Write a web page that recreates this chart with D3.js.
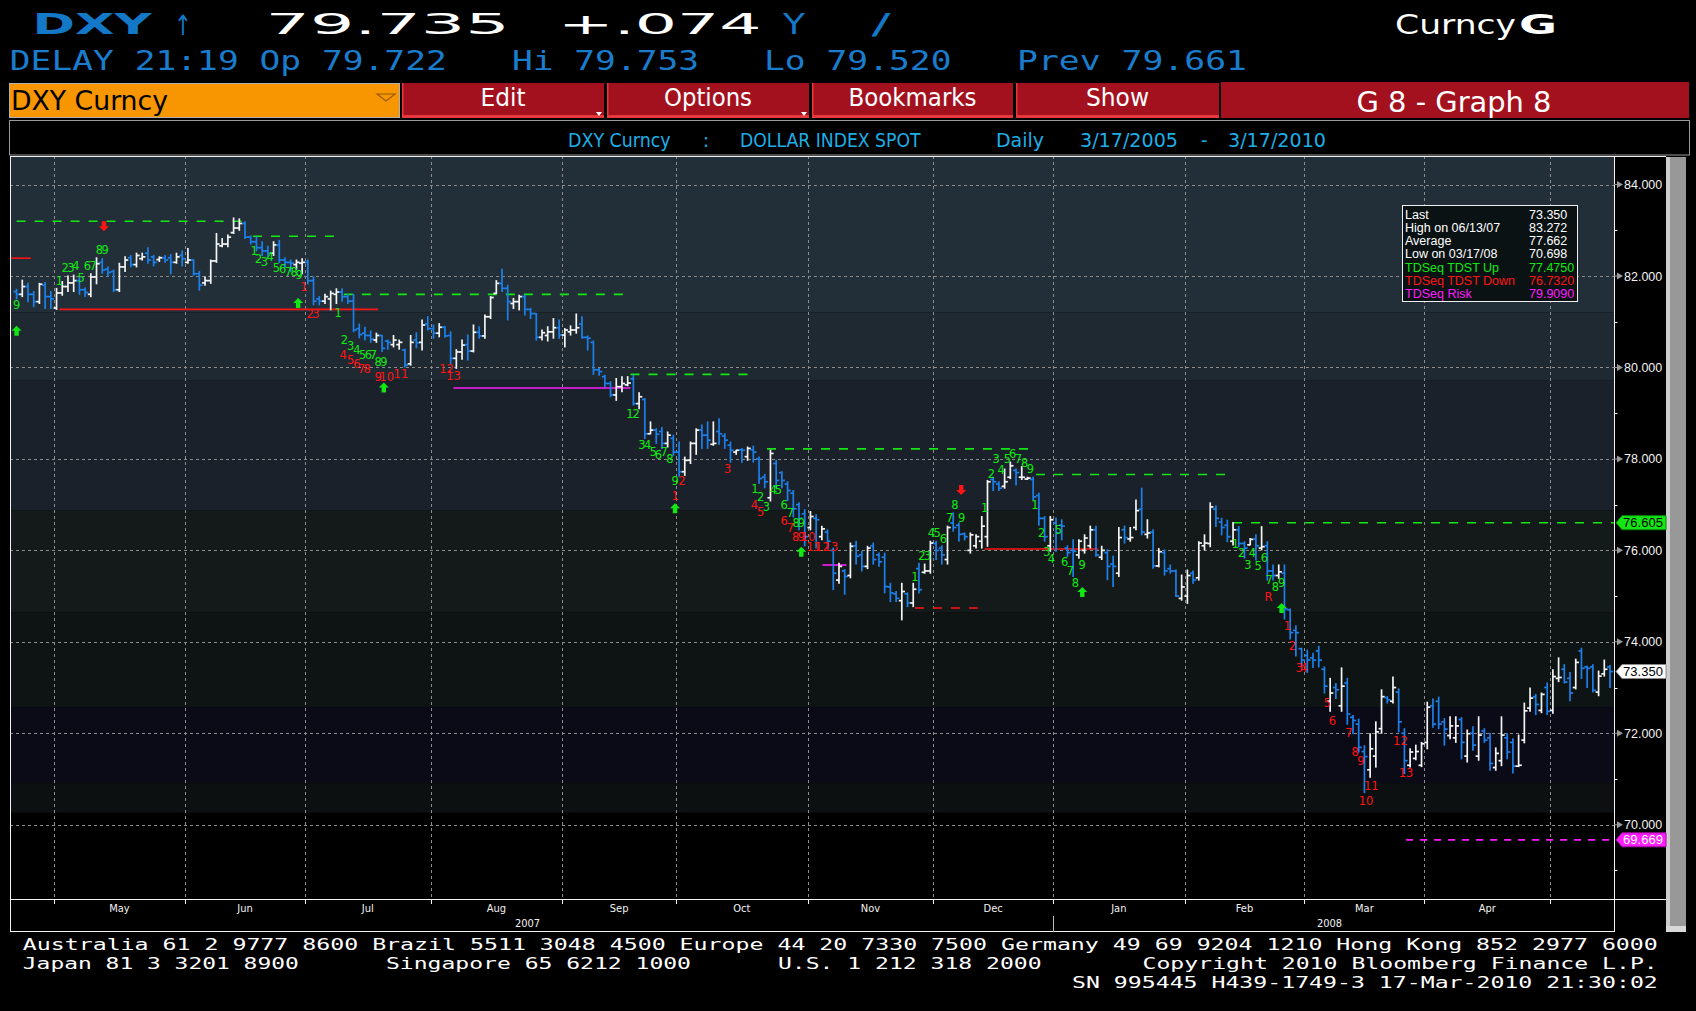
<!DOCTYPE html>
<html>
<head>
<meta charset="utf-8">
<script src="https://cdn.jsdelivr.net/npm/d3@7"></script>
<style>
html, body { margin: 0; padding: 0; background: #000; overflow: hidden; }
svg { display: block; }
</style>
</head>
<body>
<script>
// ---- daily OHLC of DXY, 20 Apr 2007 .. 15 May 2008 (weekdays) ----
const barOpen = [
  81.66, 81.60, 81.77, 81.60, 81.44, 81.80, 81.55, 81.30, 81.63, 81.77,
  81.85, 81.90, 81.70, 81.60, 81.98, 82.30, 82.15, 82.10, 81.70, 82.20,
  82.40, 82.25, 82.38, 82.50, 82.42, 82.36, 82.40, 82.40, 82.30, 82.45,
  82.30, 82.35, 82.05, 81.85, 81.90, 82.33, 82.66, 82.70, 82.95, 83.05,
  83.15, 82.85, 82.75, 82.62, 82.55, 82.50, 82.68, 82.35, 82.30, 82.25,
  82.28, 82.30, 81.90, 81.50, 81.45, 81.50, 81.60, 81.65, 81.55, 81.45,
  80.85, 80.75, 80.70, 80.60, 80.70, 80.58, 80.50, 80.50, 80.38, 80.08,
  80.60, 80.55, 80.95, 80.85, 80.75, 80.88, 80.70, 80.20, 80.34, 80.50,
  80.36, 80.77, 80.69, 81.11, 81.62, 81.84, 81.73, 81.40, 81.44, 81.55,
  81.27, 81.18, 80.66, 80.70, 80.78, 80.87, 80.71, 80.78, 80.82, 80.95,
  80.66, 80.55, 79.95, 79.80, 79.65, 79.40, 79.58, 79.62, 79.75, 79.21,
  79.30, 78.55, 78.63, 78.60, 78.34, 78.45, 78.15, 77.72, 77.97, 78.34,
  78.63, 78.52, 78.32, 78.60, 78.50, 78.30, 78.15, 78.20, 78.05, 78.20,
  78.00, 77.60, 77.15, 77.90, 77.70, 77.45, 77.25, 77.00, 76.80, 76.50,
  76.70, 76.30, 76.40, 76.00, 75.35, 75.55, 75.45, 76.10, 75.90, 75.65,
  76.10, 75.90, 75.85, 75.20, 75.05, 74.90, 75.05, 74.85, 75.60, 75.52,
  75.55, 76.15, 76.05, 75.80, 76.60, 76.55, 76.36, 76.00, 76.10, 76.20,
  76.30, 77.55, 77.45, 77.40, 77.60, 77.75, 77.60, 77.56, 77.55, 77.20,
  76.70, 76.10, 76.60, 76.55, 76.05, 76.00, 75.90, 76.00, 76.10, 76.45,
  75.85, 75.95, 75.70, 75.50, 76.45, 76.25, 76.50, 76.90, 76.35, 76.40,
  75.66, 75.95, 75.60, 75.55, 74.95, 75.00, 75.50, 75.40, 76.10, 76.15,
  76.90, 76.62, 76.55, 76.20, 76.45, 76.15, 76.12, 76.25, 76.05, 76.10,
  75.55, 75.45, 75.50, 74.70, 74.25, 73.85, 73.70, 73.65, 73.80, 73.40,
  72.70, 73.00, 72.60, 73.10, 72.35, 72.20, 71.60, 71.20, 71.50, 72.10,
  72.78, 72.70, 72.90, 72.00, 71.30, 71.45, 71.30, 71.80, 72.60, 72.70,
  72.25, 71.95, 71.90, 72.30, 71.50, 72.00, 71.50, 72.05, 71.90, 71.25,
  71.40, 71.90, 71.80, 71.28, 71.85, 72.55, 72.80, 72.50, 73.00, 72.50,
  73.20, 73.40, 73.20, 73.00, 73.80, 73.45, 73.45, 72.90, 73.30, 73.45
];
const barHigh = [
  81.71, 81.91, 81.84, 81.66, 81.84, 81.86, 81.66, 81.73, 81.88, 82.00,
  82.02, 81.98, 81.74, 82.05, 82.40, 82.38, 82.20, 82.13, 82.28, 82.42,
  82.45, 82.50, 82.50, 82.62, 82.45, 82.42, 82.45, 82.47, 82.50, 82.55,
  82.60, 82.35, 82.10, 81.98, 82.35, 82.93, 82.82, 82.90, 83.27, 83.25,
  83.19, 82.88, 82.85, 82.75, 82.65, 82.75, 82.78, 82.40, 82.35, 82.35,
  82.38, 82.35, 81.98, 81.55, 81.60, 81.67, 81.72, 81.72, 81.60, 81.60,
  80.95, 80.88, 80.80, 80.75, 80.70, 80.60, 80.70, 80.60, 80.40, 80.70,
  80.76, 81.04, 81.11, 80.93, 80.96, 80.90, 80.78, 80.39, 80.60, 80.71,
  80.93, 80.89, 81.15, 81.55, 81.90, 82.15, 81.80, 81.51, 81.58, 81.58,
  81.29, 81.18, 80.82, 80.89, 81.07, 81.04, 80.85, 80.91, 81.17, 81.11,
  80.69, 80.58, 79.98, 79.83, 79.69, 79.76, 79.80, 79.80, 79.83, 79.45,
  79.32, 78.81, 78.66, 78.69, 78.59, 78.52, 78.37, 78.04, 78.37, 78.66,
  78.74, 78.81, 78.81, 78.88, 78.55, 78.37, 78.19, 78.23, 78.26, 78.28,
  78.04, 77.66, 78.19, 77.97, 77.72, 77.50, 77.31, 77.04, 76.89, 76.85,
  76.78, 76.53, 76.45, 76.05, 75.72, 75.58, 76.16, 76.20, 75.98, 76.09,
  76.16, 75.94, 75.94, 75.28, 75.10, 75.28, 75.07, 75.28, 75.72, 75.70,
  76.20, 76.20, 76.10, 76.53, 76.82, 76.60, 76.38, 76.38, 76.34, 76.74,
  77.53, 77.60, 77.50, 77.78, 77.93, 77.78, 77.83, 77.60, 77.60, 77.25,
  76.74, 76.74, 76.71, 76.67, 76.10, 76.23, 76.23, 76.34, 76.53, 76.53,
  76.09, 76.01, 75.87, 76.50, 76.53, 76.50, 77.10, 77.36, 76.67, 76.45,
  76.04, 76.01, 75.68, 75.57, 75.46, 75.57, 75.55, 76.19, 76.34, 77.04,
  76.97, 76.70, 76.66, 76.61, 76.52, 76.19, 76.26, 76.34, 76.52, 76.19,
  75.68, 75.68, 75.68, 74.72, 74.35, 73.86, 73.82, 73.75, 73.90, 73.45,
  73.20, 73.09, 73.43, 73.20, 72.39, 72.31, 71.73, 71.99, 72.25, 72.95,
  72.80, 73.23, 72.97, 72.10, 71.66, 71.74, 71.80, 72.68, 72.75, 72.79,
  72.32, 72.36, 72.36, 72.34, 72.07, 72.14, 72.36, 72.10, 72.00, 71.68,
  72.36, 71.99, 71.88, 71.96, 72.66, 72.99, 72.85, 72.88, 73.10, 73.39,
  73.65, 73.50, 73.33, 73.62, 73.86, 73.47, 73.50, 73.36, 73.60, 73.48
];
const barLow = [
  81.50, 81.55, 81.44, 81.33, 81.40, 81.29, 81.29, 81.27, 81.58, 81.66,
  81.66, 81.60, 81.55, 81.55, 81.83, 82.06, 82.00, 81.66, 81.66, 82.10,
  82.20, 82.20, 82.35, 82.28, 82.22, 82.32, 82.30, 82.05, 82.28, 82.22,
  82.28, 82.02, 81.69, 81.80, 81.84, 82.30, 82.64, 82.64, 82.93, 83.00,
  82.82, 82.70, 82.55, 82.45, 82.42, 82.45, 82.30, 82.20, 82.10, 82.15,
  82.05, 81.83, 81.37, 81.37, 81.40, 81.26, 81.40, 81.45, 81.40, 80.78,
  80.65, 80.60, 80.55, 80.55, 80.35, 80.40, 80.45, 80.40, 80.01, 80.05,
  80.43, 80.38, 80.82, 80.64, 80.67, 80.66, 80.09, 79.98, 80.18, 80.16,
  80.34, 80.64, 80.64, 81.07, 81.62, 81.66, 81.04, 81.29, 81.26, 81.15,
  81.07, 80.60, 80.60, 80.58, 80.64, 80.64, 80.45, 80.71, 80.75, 80.64,
  80.38, 79.85, 79.83, 79.58, 79.36, 79.28, 79.47, 79.60, 79.18, 79.10,
  78.45, 78.55, 78.34, 78.23, 78.26, 78.08, 77.61, 77.64, 77.90, 78.10,
  78.23, 78.23, 78.30, 78.32, 78.23, 77.93, 78.10, 77.93, 77.97, 77.93,
  77.46, 77.37, 77.08, 77.37, 77.37, 77.09, 76.73, 76.45, 76.10, 76.45,
  76.05, 76.23, 76.05, 75.14, 75.28, 75.04, 75.40, 75.70, 75.55, 75.60,
  75.70, 75.65, 75.07, 74.88, 74.88, 74.48, 74.77, 74.77, 75.07, 75.50,
  75.50, 75.80, 75.70, 75.70, 76.42, 76.20, 76.23, 75.94, 76.05, 76.05,
  76.09, 77.31, 77.31, 77.36, 77.57, 77.43, 77.55, 77.55, 77.10, 76.55,
  76.20, 75.98, 75.98, 76.23, 75.87, 75.43, 75.83, 75.94, 76.05, 75.87,
  75.80, 75.36, 75.21, 75.43, 76.16, 76.20, 76.45, 76.34, 76.27, 75.61,
  75.64, 75.46, 75.50, 74.99, 74.91, 74.84, 75.28, 75.35, 76.01, 76.08,
  76.52, 76.34, 76.19, 76.12, 76.08, 75.83, 76.12, 75.79, 76.01, 75.35,
  75.35, 75.39, 74.50, 74.06, 73.69, 73.47, 73.33, 73.44, 73.45, 72.88,
  72.48, 72.76, 72.48, 72.20, 71.99, 71.59, 70.70, 71.04, 71.26, 72.00,
  72.66, 72.66, 72.03, 71.12, 71.26, 71.42, 71.27, 71.66, 72.13, 72.10,
  71.74, 71.88, 71.80, 71.44, 71.37, 71.63, 71.41, 71.80, 71.19, 71.19,
  71.29, 71.44, 71.13, 71.27, 71.79, 72.48, 72.41, 72.45, 72.41, 72.44,
  73.13, 73.10, 72.71, 72.97, 73.20, 73.00, 72.90, 72.82, 73.25, 73.00
];
const barClose = [
  81.60, 81.77, 81.60, 81.44, 81.82, 81.55, 81.50, 81.63, 81.77, 81.85,
  81.90, 81.70, 81.64, 81.98, 82.27, 82.13, 82.08, 81.70, 82.20, 82.35,
  82.25, 82.45, 82.42, 82.35, 82.30, 82.40, 82.35, 82.30, 82.42, 82.38,
  82.35, 82.05, 81.80, 81.90, 82.33, 82.70, 82.70, 82.85, 83.05, 83.15,
  82.85, 82.75, 82.62, 82.55, 82.50, 82.68, 82.35, 82.30, 82.28, 82.30,
  82.30, 81.90, 81.45, 81.45, 81.55, 81.62, 81.65, 81.55, 81.45, 80.82,
  80.72, 80.70, 80.62, 80.70, 80.42, 80.55, 80.60, 80.55, 80.05, 80.55,
  80.54, 80.93, 80.85, 80.75, 80.88, 80.69, 80.20, 80.34, 80.49, 80.36,
  80.77, 80.69, 81.11, 81.53, 81.84, 81.73, 81.44, 81.44, 81.55, 81.27,
  81.18, 80.66, 80.76, 80.78, 80.87, 80.71, 80.82, 80.82, 80.87, 80.66,
  80.64, 79.95, 79.91, 79.65, 79.40, 79.58, 79.65, 79.66, 79.21, 79.36,
  78.55, 78.63, 78.54, 78.34, 78.52, 78.15, 77.72, 77.97, 78.34, 78.63,
  78.52, 78.41, 78.34, 78.55, 78.41, 78.19, 78.19, 78.19, 78.23, 78.15,
  77.57, 77.50, 78.12, 77.53, 77.53, 77.31, 76.91, 76.70, 76.30, 76.74,
  76.67, 76.47, 76.20, 75.50, 75.65, 75.43, 76.09, 75.87, 75.65, 76.05,
  75.80, 75.75, 75.21, 75.07, 74.95, 75.10, 74.85, 75.15, 75.14, 75.55,
  76.16, 76.00, 75.90, 76.50, 76.50, 76.35, 76.30, 76.34, 76.30, 76.53,
  77.50, 77.50, 77.36, 77.50, 77.85, 77.70, 77.60, 77.58, 77.17, 76.70,
  76.30, 76.67, 76.38, 76.53, 75.95, 75.98, 76.20, 76.27, 76.45, 75.90,
  76.00, 75.65, 75.65, 76.28, 76.28, 76.28, 76.87, 76.40, 76.38, 75.66,
  75.97, 75.55, 75.55, 75.00, 75.20, 75.45, 75.35, 76.16, 76.16, 76.95,
  76.70, 76.50, 76.30, 76.45, 76.15, 76.05, 76.24, 76.10, 76.08, 75.55,
  75.45, 75.53, 74.72, 74.20, 74.20, 73.60, 73.60, 73.60, 73.60, 73.03,
  72.88, 72.95, 73.03, 72.42, 72.28, 71.69, 71.49, 71.66, 72.03, 72.80,
  72.73, 73.00, 72.25, 71.40, 71.59, 71.60, 71.77, 72.57, 72.20, 72.20,
  72.09, 72.16, 72.16, 71.80, 71.99, 71.74, 71.96, 71.85, 71.34, 71.56,
  71.96, 71.59, 71.28, 71.30, 72.49, 72.77, 72.63, 72.85, 72.48, 73.24,
  73.22, 73.12, 72.88, 73.55, 73.42, 73.42, 72.94, 73.25, 73.40, 73.35
];

// axis labels
const priceTicks = [84, 82, 80, 78, 76, 74, 72, 70];
const priceMinorTicks = [83, 81, 79, 77, 75, 73, 71, 69];
const monthLabels = ["May", "Jun", "Jul", "Aug", "Sep", "Oct", "Nov", "Dec", "Jan", "Feb", "Mar", "Apr"];
const yearLabels = ["2007", "2008"];

// background shading levels (price) and colours, top to bottom
const shadeLevels = [84.7, 81.2, 79.71, 76.87, 74.64, 72.57, 70.91, 70.26, 68.3];
const shadeColors = ["#222f39", "#1e2931", "#1a212b", "#141a1a", "#0e1414", "#0b0b17", "#0d1010", "#000000"];

// TD sequential marks: [bar index, price, text]
const setupCounts = [
  [0, 81.37, "9"], [7.5, 81.89, "1"], [8.5, 82.18, "2"], [9.5, 82.18, "3"], [10.4, 82.23, "4"],
  [11.3, 81.96, "5"], [12.4, 82.22, "6"], [13.4, 82.22, "7"], [14.5, 82.58, "8"], [15.5, 82.58, "9"],
  [41.6, 82.55, "1"], [42.4, 82.37, "2"], [43.4, 82.31, "3"], [44.4, 82.42, "4"], [45.5, 82.18, "5"],
  [46.6, 82.15, "6"], [47.6, 82.09, "7"], [48.6, 82.09, "8"], [49.5, 82.02, "9"],
  [56.3, 81.2, "1"], [57.4, 80.6, "2"], [58.5, 80.47, "3"], [59.6, 80.38, "4"], [60.6, 80.28, "5"],
  [61.6, 80.28, "6"], [62.5, 80.28, "7"], [63.3, 80.12, "8"], [64.3, 80.12, "9"],
  [107.4, 78.99, "1"], [108.5, 78.99, "2"], [109.5, 78.3, "3"], [110.5, 78.3, "4"], [111.5, 78.15, "5"],
  [112.4, 78.08, "6"], [113.4, 78.15, "7"], [114.4, 78.0, "8"], [115.3, 77.53, "9"],
  [129.3, 77.35, "1"], [130.3, 77.18, "2"], [131.3, 76.95, "3"], [132.5, 77.33, "4"], [133.4, 77.33, "5"],
  [134.4, 77.0, "6"], [135.5, 76.82, "7"], [136.5, 76.6, "8"], [137.4, 76.6, "9"],
  [157.3, 75.42, "1"], [158.5, 75.88, "2"], [159.5, 75.88, "3"], [160.2, 76.38, "4"], [161.2, 76.38, "5"],
  [162.3, 76.26, "6"], [163.4, 76.71, "7"], [164.3, 77.0, "8"], [165.5, 76.71, "9"],
  [169.5, 76.94, "1"], [170.7, 77.67, "2"], [171.5, 78.0, "3"], [172.4, 77.77, "4"], [173.5, 78.0, "5"],
  [174.4, 78.12, "6"], [175.4, 78.0, "7"], [176.5, 77.91, "8"], [177.5, 77.78, "9"],
  [178.3, 77.0, "1"], [179.5, 76.39, "2"], [180.4, 75.96, "3"], [181.2, 75.81, "4"], [182.4, 76.45, "5"],
  [183.5, 75.74, "6"], [184.5, 75.56, "7"], [185.4, 75.28, "8"], [186.6, 75.69, "9"],
  [213.4, 76.14, "1"], [214.5, 75.94, "2"], [215.6, 75.68, "3"], [216.4, 75.95, "4"], [217.4, 75.66, "5"],
  [218.5, 75.83, "6"], [219.3, 75.35, "7"], [220.4, 75.21, "8"], [221.5, 75.29, "9"]
];
const countdownCounts = [
  [50.3, 81.77, "1"], [51.4, 81.18, "2"], [52.4, 81.18, "3"],
  [57.2, 80.28, "4"], [58.5, 80.16, "5"], [59.6, 80.09, "6"], [60.4, 79.98, "7"], [61.4, 79.98, "8"],
  [63.3, 79.8, "9"], [64.8, 79.8, "10"], [67.3, 79.85, "11"], [75.3, 79.96, "12"], [76.5, 79.81, "13"],
  [115.3, 77.2, "1"], [116.5, 77.53, "2"], [124.5, 77.79, "3"],
  [129.2, 77.0, "4"], [130.3, 76.84, "5"], [134.4, 76.64, "6"], [135.5, 76.5, "7"], [136.4, 76.3, "8"],
  [137.4, 76.3, "9"], [138.6, 76.3, "10"], [139.6, 76.08, "11"], [141.1, 76.08, "12"], [142.6, 76.08, "13"],
  [219.2, 74.99, "R"], [222.5, 74.35, "1"], [223.4, 73.91, "2"], [224.6, 73.44, "3"], [225.4, 73.44, "4"],
  [229.5, 72.67, "5"], [230.4, 72.27, "6"], [233.3, 72.01, "7"], [234.4, 71.6, "8"], [235.4, 71.39, "9"],
  [236.3, 70.52, "10"], [237.2, 70.86, "11"], [242.3, 71.83, "12"], [243.3, 71.14, "13"]
];
// arrows: [bar index, price]
const buyArrows = [[0, 80.79], [49.3, 81.4], [64.3, 79.55], [115.3, 76.91], [137.4, 75.96], [186.6, 75.08], [221.5, 74.73]];
const sellArrows = [[15.3, 83.1], [165.4, 77.33]];
// levels: [from bar, to bar, price]
const tdstUpLines = [[0, 40.3, 83.2], [41.4, 56.3, 82.87], [57.3, 106.4, 81.6], [107.5, 128.4, 79.85],
  [131.4, 177.9, 78.22], [178.5, 213, 77.66], [213, 279.7, 76.605]];
const tdstDownLines = [[-1.15, 2.5, 82.39], [7.5, 63.3, 81.27], [169.5, 189.4, 76.03]];
const tdstDownDashed = [[157.3, 169.3, 74.74]];
const riskLines = [[76.5, 107.5, 79.55], [141.1, 145.3, 75.68]];
const riskDashed = [[243.3, 279.5, 69.669]];

// legend rows
const legendNames = ["Last", "High on 06/13/07", "Average", "Low on 03/17/08", "TDSeq TDST Up", "TDSeq TDST Down", "TDSeq Risk"];
const legendValues = ["73.350", "83.272", "77.662", "70.698", "77.4750", "76.7320", "79.9090"];

// ---------------------------------------------------------------
const W = 1696, H = 1011;
const plot = {left: 10, right: 1614, top: 156, bottom: 899};
const WIDE = "'DejaVu Sans', sans-serif";
const MONO = "'DejaVu Sans Mono', monospace";
const NARROW = "'Liberation Sans Narrow', 'DejaVu Sans Condensed', 'Liberation Sans', sans-serif";
const SANS = "'Liberation Sans', Arial, sans-serif";
const GREEN = "#12e812", RED = "#ff1414", MAGENTA = "#ff1cff";

const firstDay = new Date(2007, 3, 20), lastDay = new Date(2008, 4, 15);
const barDates = d3.timeDay.range(firstDay, d3.timeDay.offset(lastDay, 1))
  .filter(d => d.getDay() !== 0 && d.getDay() !== 6);

const bars = barDates.map((d, i) => ({
  i: i, date: d, o: barOpen[i], h: barHigh[i], l: barLow[i], c: barClose[i]
}));

const x = d3.scaleLinear().domain([-1.15, 279.7]).range([plot.left, plot.right]);
const y = d3.scaleLinear().domain([70, 84]).range([824.7, 184.6]);

const svg = d3.select("body").append("svg")
  .attr("width", W).attr("height", H)
  .style("background", "#000");

/**
 * puts a text stretched to a given width (Bloomberg fonts are wide/narrow)
 */
function putText(g, s, xx, yy, opt) {
  const t = g.append("text")
    .attr("x", xx).attr("y", yy)
    .attr("fill", opt.color || "#fff")
    .style("font-family", opt.font || WIDE)
    .style("font-size", (opt.size || 12) + "px")
    .style("font-weight", opt.weight || "normal")
    .text(s);
  if (opt.len) t.attr("textLength", opt.len).attr("lengthAdjust", "spacingAndGlyphs");
  if (opt.anchor) t.attr("text-anchor", opt.anchor);
  return t;
}

// ---- header ----
const head = svg.append("g");
const BLUE1 = "#1478c8", BLUE2 = "#1a7ccc";
putText(head, "DXY", 32.5, 33.5, {size: 28, weight: "bold", color: BLUE1, len: 119});
putText(head, "\u2191", 174, 35, {size: 28, color: BLUE1, len: 18});
putText(head, "79.735", 265.6, 33.5, {size: 28, len: 244});
putText(head, "+.074", 558, 33.5, {size: 28, len: 203.5});
putText(head, "Y", 783, 33.5, {size: 28, color: BLUE1, len: 22});
putText(head, "/", 871.6, 33.5, {size: 28, color: BLUE1, len: 19});
putText(head, "Curncy", 1395, 33.5, {size: 27, len: 121});
putText(head, "G", 1519, 33.5, {size: 27, weight: "bold", len: 38});

putText(head, "DELAY 21:19 Op 79.722", 9.8, 70, {size: 27, font: MONO, color: BLUE2, len: 437});
putText(head, "Hi 79.753", 512, 70, {size: 27, font: MONO, color: BLUE2, len: 187});
putText(head, "Lo 79.520", 764, 70, {size: 27, font: MONO, color: BLUE2, len: 187.5});
putText(head, "Prev 79.661", 1017, 70, {size: 27, font: MONO, color: BLUE2, len: 230});

// menu bar
head.append("rect").attr("x", 9.5).attr("y", 83.5).attr("width", 390).attr("height", 34)
  .attr("fill", "#f79600").attr("stroke", "#b0b0b0").attr("stroke-width", 1);
putText(head, "DXY Curncy", 11, 110, {size: 27, font: NARROW, color: "#000", len: 157});
head.append("path").attr("d", "M377,94 L395,94 L386,101 Z")
  .attr("fill", "none").attr("stroke", "#9a5a00").attr("stroke-width", 1.2);

const buttons = [
  {s: "Edit", x0: 402, x1: 604, len: 45, tri: true},
  {s: "Options", x0: 607, x1: 809, len: 88, tri: true},
  {s: "Bookmarks", x0: 812, x1: 1013, len: 128, tri: false},
  {s: "Show", x0: 1016, x1: 1219, len: 63, tri: false}
];
buttons.forEach(b => {
  head.append("rect").attr("x", b.x0).attr("y", 83).attr("width", b.x1 - b.x0).attr("height", 35)
    .attr("fill", "#a3111f");
  head.append("rect").attr("x", b.x0).attr("y", 115).attr("width", b.x1 - b.x0).attr("height", 3)
    .attr("fill", "#e8383c");
  head.append("rect").attr("x", b.x0).attr("y", 83).attr("width", 1.5).attr("height", 35)
    .attr("fill", "#e8383c");
  putText(head, b.s, (b.x0 + b.x1) / 2, 106, {size: 24, font: NARROW, len: b.len, anchor: "middle"});
  if (b.tri) {
    head.append("path").attr("d", `M${b.x1 - 8},112 L${b.x1 - 2},112 L${b.x1 - 5},116 Z`).attr("fill", "#fff");
  }
});
head.append("rect").attr("x", 1221).attr("y", 82).attr("width", 468).attr("height", 36).attr("fill", "#a3111f");
putText(head, "G 8 - Graph 8", 1454, 111.5, {size: 29, font: NARROW, len: 195, anchor: "middle"});

// title strip
head.append("rect").attr("x", 9.5).attr("y", 120.5).attr("width", 1680).attr("height", 34.5)
  .attr("fill", "#000").attr("stroke", "#9a9a9a").attr("stroke-width", 1);
const CYAN = "#1eaee6";
putText(head, "DXY Curncy", 568, 146.7, {size: 20, font: NARROW, color: CYAN, len: 102.6});
putText(head, ":", 703, 146.7, {size: 20, font: NARROW, color: CYAN});
putText(head, "DOLLAR INDEX SPOT", 740, 146.7, {size: 20, font: NARROW, color: CYAN, len: 180.5});
putText(head, "Daily", 996, 146.7, {size: 20, font: NARROW, color: CYAN, len: 48});
putText(head, "3/17/2005", 1080, 146.7, {size: 20, font: NARROW, color: CYAN, len: 98});
putText(head, "-", 1201, 146.7, {size: 20, font: NARROW, color: CYAN});
putText(head, "3/17/2010", 1228, 146.7, {size: 20, font: NARROW, color: CYAN, len: 98});

// ---- plot area ----
svg.append("defs").append("clipPath").attr("id", "plotClip")
  .append("rect").attr("x", plot.left).attr("y", plot.top)
  .attr("width", plot.right - plot.left).attr("height", plot.bottom - plot.top);

const chart = svg.append("g").attr("clip-path", "url(#plotClip)");

chart.selectAll("rect.shade")
  .data(shadeColors)
  .join("rect")
  .attr("class", "shade")
  .attr("x", plot.left)
  .attr("width", plot.right - plot.left)
  .attr("y", (d, k) => y(shadeLevels[k]))
  .attr("height", (d, k) => y(shadeLevels[k + 1]) - y(shadeLevels[k]))
  .attr("fill", d => d);

// month boundaries
const monthStarts = bars.filter((b, i) => i > 0 && b.date.getMonth() !== bars[i - 1].date.getMonth()).map(b => b.i);
const monthEdges = monthStarts.map(i => x(i - 0.5));

chart.selectAll("line.vgrid")
  .data(monthEdges)
  .join("line")
  .attr("class", "vgrid")
  .attr("x1", d => Math.round(d) + 0.5).attr("x2", d => Math.round(d) + 0.5)
  .attr("y1", plot.top).attr("y2", plot.bottom)
  .attr("stroke", "#8c8c8c").attr("stroke-width", 1).attr("stroke-dasharray", "3,3");

chart.selectAll("line.hgrid")
  .data(priceTicks)
  .join("line")
  .attr("class", "hgrid")
  .attr("x1", plot.left).attr("x2", plot.right)
  .attr("y1", d => Math.round(y(d)) + 0.5).attr("y2", d => Math.round(y(d)) + 0.5)
  .attr("stroke", "#8c8c8c").attr("stroke-width", 1).attr("stroke-dasharray", "3,3");

// TDST / risk levels
function levelLines(data, color, dash, width) {
  chart.append("g").selectAll("line")
    .data(data)
    .join("line")
    .attr("x1", d => x(d[0])).attr("x2", d => x(d[1]))
    .attr("y1", d => y(d[2])).attr("y2", d => y(d[2]))
    .attr("stroke", color).attr("stroke-width", width)
    .attr("stroke-dasharray", dash);
}
levelLines(tdstUpLines, GREEN, "9,9", 1.6);
levelLines(tdstDownLines, RED, null, 1.6);
levelLines(tdstDownDashed, RED, "9,9", 1.6);
levelLines(riskLines, MAGENTA, null, 1.6);
levelLines(riskDashed, MAGENTA, "7,7", 1.6);

// OHLC bars
const barColor = d => d.c >= d.o ? "#f4f4f4" : "#1c80ea";
const barG = chart.append("g").selectAll("g")
  .data(bars)
  .join("g")
  .attr("stroke", barColor)
  .attr("stroke-width", 1.7);
barG.append("line")
  .attr("x1", d => x(d.i)).attr("x2", d => x(d.i))
  .attr("y1", d => y(d.h) - 0.5).attr("y2", d => y(d.l) + 0.5);
barG.append("line")
  .attr("x1", d => x(d.i) - 3).attr("x2", d => x(d.i))
  .attr("y1", d => y(d.o)).attr("y2", d => y(d.o));
barG.append("line")
  .attr("x1", d => x(d.i)).attr("x2", d => x(d.i) + 3.2)
  .attr("y1", d => y(d.c)).attr("y2", d => y(d.c));

// TD counts
function counts(data, color) {
  chart.append("g").selectAll("text")
    .data(data)
    .join("text")
    .attr("x", d => x(d[0]))
    .attr("y", d => y(d[1]))
    .attr("dy", "0.36em")
    .attr("text-anchor", "middle")
    .attr("fill", color)
    .style("font-family", WIDE)
    .style("font-size", "11.5px")
    .text(d => d[2]);
}
counts(setupCounts, GREEN);
counts(countdownCounts, RED);

const arrowUp = "M0,-5.5 L5,-0.5 L2.2,-0.5 L2.2,4.5 L-2.2,4.5 L-2.2,-0.5 L-5,-0.5 Z";
chart.append("g").selectAll("path")
  .data(buyArrows)
  .join("path")
  .attr("d", arrowUp)
  .attr("transform", d => `translate(${x(d[0])},${y(d[1])})`)
  .attr("fill", GREEN);
chart.append("g").selectAll("path")
  .data(sellArrows)
  .join("path")
  .attr("d", arrowUp)
  .attr("transform", d => `translate(${x(d[0])},${y(d[1])}) rotate(180)`)
  .attr("fill", RED);

// legend box
const leg = svg.append("g");
leg.append("rect").attr("x", 1402.5).attr("y", 205.5).attr("width", 175).attr("height", 96)
  .attr("fill", "#0b1213").attr("stroke", "#f0f0f0").attr("stroke-width", 1);
const legColors = ["#fff", "#fff", "#fff", "#fff", GREEN, RED, MAGENTA];
legendNames.forEach((n, k) => {
  putText(leg, n, 1405, 218.5 + k * 13.3, {size: 12.5, font: SANS, color: legColors[k]});
  putText(leg, legendValues[k], 1529, 218.5 + k * 13.3, {size: 12.5, font: SANS, color: legColors[k]});
});

// ---- frame and axes ----
const frame = svg.append("g").attr("fill", "none").attr("stroke", "#f2f2f2").attr("stroke-width", 1);
frame.append("line").attr("x1", 10.5).attr("x2", 10.5).attr("y1", 156).attr("y2", 932);
frame.append("line").attr("x1", 10).attr("x2", 1666).attr("y1", 156.5).attr("y2", 156.5);
frame.append("line").attr("x1", 1614.5).attr("x2", 1614.5).attr("y1", 156).attr("y2", 932);
frame.append("line").attr("x1", 10).attr("x2", 1666).attr("y1", 899.5).attr("y2", 899.5);
frame.append("line").attr("x1", 10).attr("x2", 1615).attr("y1", 931.5).attr("y2", 931.5);

// scrollbar
svg.append("rect").attr("x", 1666).attr("y", 157).attr("width", 4).attr("height", 775).attr("fill", "#cdcdcd");
svg.append("rect").attr("x", 1670).attr("y", 157).attr("width", 16).attr("height", 775).attr("fill", "#989898");
svg.append("rect").attr("x", 1666).attr("y", 926).attr("width", 20).attr("height", 6).attr("fill", "#d8d8d8");

// month ticks and labels
const axisG = svg.append("g");
axisG.selectAll("line.mt")
  .data(monthEdges)
  .join("line")
  .attr("class", "mt")
  .attr("x1", d => Math.round(d) + 0.5).attr("x2", d => Math.round(d) + 0.5)
  .attr("y1", 899).attr("y2", 904)
  .attr("stroke", "#f2f2f2");
const fullMonths = monthLabels.map((m, k) => ({m: m, mid: (monthEdges[k] + monthEdges[k + 1]) / 2}));
axisG.selectAll("text.ml")
  .data(fullMonths)
  .join("text")
  .attr("class", "ml")
  .attr("x", d => d.mid).attr("y", 912)
  .attr("text-anchor", "middle")
  .attr("fill", "#f2f2f2")
  .style("font-family", NARROW).style("font-size", "11px")
  .text(d => d.m);
const yearEdge = monthEdges[monthLabels.indexOf("Jan")];
axisG.append("line")
  .attr("x1", Math.round(yearEdge) + 0.5).attr("x2", Math.round(yearEdge) + 0.5)
  .attr("y1", 916).attr("y2", 932).attr("stroke", "#bbbbbb");
const yearMids = [(plot.left + yearEdge) / 2, (yearEdge + plot.right) / 2];
axisG.selectAll("text.yl")
  .data(yearLabels)
  .join("text")
  .attr("class", "yl")
  .attr("x", (d, k) => yearMids[k] - 4).attr("y", 927)
  .attr("text-anchor", "middle")
  .attr("fill", "#f2f2f2")
  .style("font-family", NARROW).style("font-size", "11px")
  .text(d => d);

// right price axis
const rAxis = svg.append("g");
rAxis.selectAll("path.mk")
  .data(priceTicks)
  .join("path")
  .attr("class", "mk")
  .attr("d", d => `M1614,${y(d) - 0.5} L1617,${y(d) - 0.5} L1617,${y(d) - 3.5} L1623,${y(d)} L1617,${y(d) + 3.5} L1617,${y(d) + 0.5} L1614,${y(d) + 0.5} Z`)
  .attr("fill", "#9a9a9a");
rAxis.selectAll("text.pl")
  .data(priceTicks)
  .join("text")
  .attr("class", "pl")
  .attr("x", 1624).attr("y", d => y(d) + 4.5)
  .attr("fill", "#f2f2f2")
  .style("font-family", SANS).style("font-size", "12.5px")
  .text(d => d3.format(".3f")(d));
rAxis.selectAll("line.mn")
  .data(priceMinorTicks)
  .join("line")
  .attr("class", "mn")
  .attr("x1", 1614).attr("x2", 1617.5)
  .attr("y1", d => Math.round(y(d)) + 0.5).attr("y2", d => Math.round(y(d)) + 0.5)
  .attr("stroke", "#f2f2f2");

// value flags on the price axis
const flags = [
  {v: tdstUpLines[tdstUpLines.length - 1][2], fill: "#14e614", edge: "#0a8a0a", text: "#000"},
  {v: barClose[barClose.length - 1], fill: "#ffffff", edge: "#8a8a8a", text: "#000"},
  {v: riskDashed[0][2], fill: MAGENTA, edge: "#a010a0", text: "#fff"}
];
flags.forEach(f => {
  const yy = y(f.v);
  rAxis.append("path")
    .attr("d", `M1616,${yy} L1622,${yy - 7} L1666,${yy - 7} L1666,${yy + 7} L1622,${yy + 7} Z`)
    .attr("fill", f.fill).attr("stroke", f.edge).attr("stroke-width", 1);
  rAxis.append("text").attr("x", 1643).attr("y", yy + 4.5).attr("text-anchor", "middle")
    .attr("fill", f.text).style("font-family", SANS).style("font-size", "13px")
    .text(d3.format(".3f")(f.v));
});

// ---- footer ----
const foot = svg.append("g");
putText(foot, "Australia 61 2 9777 8600 Brazil 5511 3048 4500 Europe 44 20 7330 7500 Germany 49 69 9204 1210 Hong Kong 852 2977 6000",
  22.8, 949.5, {size: 15, font: MONO, len: 1635});
putText(foot, "Japan 81 3 3201 8900", 22.8, 968.5, {size: 15, font: MONO, len: 276});
putText(foot, "Singapore 65 6212 1000", 386, 968.5, {size: 15, font: MONO, len: 305});
putText(foot, "U.S. 1 212 318 2000", 778, 968.5, {size: 15, font: MONO, len: 263.6});
putText(foot, "Copyright 2010 Bloomberg Finance L.P.", 1142.5, 968.5, {size: 15, font: MONO, len: 515.3});
putText(foot, "SN 995445 H439-1749-3 17-Mar-2010 21:30:02", 1072, 988, {size: 15, font: MONO, len: 585.8});
</script>
</body>
</html>
